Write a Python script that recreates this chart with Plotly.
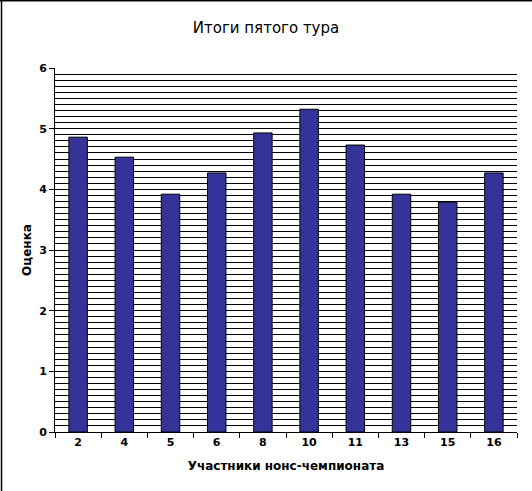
import plotly.graph_objects as go

categories = ["2", "4", "5", "6", "8", "10", "11", "13", "15", "16"]
scores = [4.86, 4.53, 3.92, 4.27, 4.93, 5.32, 4.73, 3.92, 3.79, 4.27]

title_text = "Итоги пятого тура"
x_title = "Участники нонс-чемпионата"
y_title = "Оценка"

W, H = 532, 491
ml, mr, mt, mb = 55, 15, 68, 59
pw, ph = W - ml - mr, H - mt - mb

fig = go.Figure(go.Bar(
    x=categories, y=scores,
    marker=dict(color="#333399", line=dict(color="black", width=1)),
))

font_family = "DejaVu Sans, Verdana, sans-serif"

fig.update_layout(
    width=W, height=H,
    margin=dict(l=ml, r=mr, t=mt, b=mb, pad=0),
    paper_bgcolor="white", plot_bgcolor="white",
    bargap=0.6,
    showlegend=False,
    font=dict(family=font_family, color="black"),
    title=dict(text=title_text, x=0.5, xref="container", xanchor="center",
               y=1 - 28 / H, yref="container", yanchor="middle",
               font=dict(size=15, family=font_family, color="black")),
)

fig.update_xaxes(
    type="category",
    showline=True, linecolor="black", linewidth=1,
    ticks="outside", ticklen=5, tickcolor="black", tickson="boundaries",
    showgrid=False,
    tickfont=dict(size=11, family=font_family, color="black", weight="bold"),
    title=dict(text=x_title, standoff=13,
               font=dict(size=12, family=font_family, color="black", weight="bold")),
)
fig.update_yaxes(
    range=[0, 6], dtick=1, tick0=0,
    showline=True, linecolor="black", linewidth=1,
    ticks="outside", ticklen=5, tickcolor="black",
    showgrid=True, gridcolor="black", gridwidth=1,
    minor=dict(dtick=0.1, showgrid=True, gridcolor="black", gridwidth=1, ticks=""),
    zeroline=False,
    tickfont=dict(size=11, family=font_family, color="black", weight="bold"),
    title=dict(text=y_title, standoff=4,
               font=dict(size=12, family=font_family, color="black", weight="bold")),
)

# partial frame of the original image (top and left edges)
fig.add_shape(type="line", xref="paper", yref="paper",
              x0=-ml / pw, x1=(W - ml) / pw, y0=1 + (mt - 0.75) / ph, y1=1 + (mt - 0.75) / ph,
              line=dict(color="black", width=1.5))
fig.add_shape(type="line", xref="paper", yref="paper",
              x0=-(ml - 1.5) / pw, x1=-(ml - 1.5) / pw, y0=1 + mt / ph, y1=-mb / ph,
              line=dict(color="black", width=1.5))

fig.write_html("out.html", config={"displayModeBar": False},
               post_script="document.body.style.margin='0';")
